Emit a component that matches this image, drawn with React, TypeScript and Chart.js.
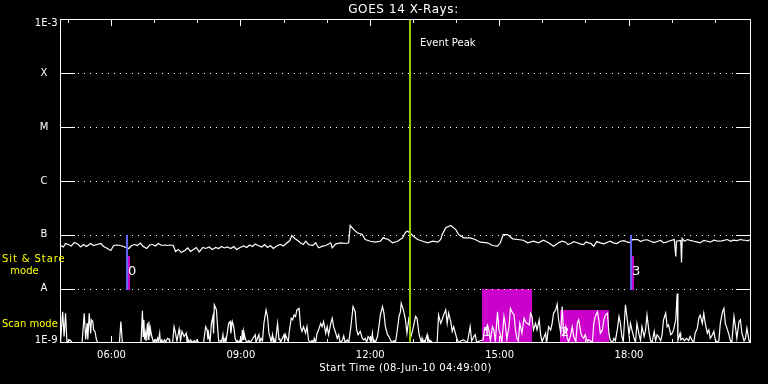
import { useEffect, useRef } from 'react';
import { Chart, registerables } from 'chart.js';

Chart.register(...registerables);

// ---------- data ----------
const TITLE = 'GOES 14 X-Rays:';
const X_TITLE = 'Start Time (08-Jun-10 04:49:00)';
const SPAN_MINUTES = 960; // minutes after 04:49
const hourTickMinutes = [11, 71, 131, 191, 251, 311, 371, 431, 491, 551, 611, 671, 731, 791, 851, 911];
const labelTickMinutes = [71, 251, 431, 611, 791];
const labelTickTexts = ['06:00', '09:00', '12:00', '15:00', '18:00'];
const levelValues = [1e-9, 1e-8, 1e-7, 1e-6, 1e-5, 1e-4, 1e-3];
const levelLabels = ['1E-9', 'A', 'B', 'C', 'M', 'X', '1E-3'];
const eventPeakMinute = 486;
const sitStareMinutes = [93, 794];
const sitStareLabels = ['0', '3'];
const sitStareBarTop = [4.1e-8, 4.1e-8];
const scanBlockStart = [586, 695];
const scanBlockEnd = [655, 763];
const scanBlockTop = [1e-8, 4.1e-9];
const scanBlockLabels = ['1', '2'];

// [minute, flux W/m^2]
const fluxSamples: [number, number][] = [
  [0, 6.34e-8], [4, 5.94e-8], [7, 6.9e-8], [11, 6.61e-8], [15, 6.2e-8], [19, 7.2e-8], [24, 6.76e-8], [28, 5.94e-8],
  [32, 6.61e-8], [36, 6.07e-8], [42, 6.9e-8], [46, 6.34e-8], [51, 6.61e-8], [56, 6.9e-8], [60, 6.07e-8], [64, 5.7e-8],
  [70, 5.12e-8], [74, 6.34e-8], [78, 6.47e-8], [83, 6.34e-8], [88, 6.07e-8], [92, 5.7e-8], [95, 5.58e-8], [99, 6.34e-8],
  [103, 6.61e-8], [107, 6.34e-8], [111, 7.05e-8], [115, 6.07e-8], [120, 5.58e-8], [124, 6.47e-8], [128, 6.61e-8],
  [132, 6.2e-8], [136, 6.9e-8], [141, 6.34e-8], [145, 6.47e-8], [149, 6.34e-8], [153, 6.47e-8], [157, 6.34e-8],
  [160, 4.91e-8], [164, 5.35e-8], [168, 4.7e-8], [173, 5.12e-8], [177, 5.7e-8], [181, 4.91e-8], [185, 5.35e-8],
  [189, 5.82e-8], [193, 4.8e-8], [198, 5.82e-8], [202, 5.58e-8], [207, 5.94e-8], [211, 5.35e-8], [216, 5.82e-8],
  [220, 5.58e-8], [224, 6.07e-8], [228, 5.7e-8], [232, 5.94e-8], [237, 5.58e-8], [241, 6.07e-8], [245, 5.35e-8],
  [250, 5.82e-8], [255, 6.2e-8], [259, 5.82e-8], [263, 6.47e-8], [267, 6.07e-8], [271, 6.76e-8], [275, 6.34e-8],
  [280, 5.94e-8], [284, 6.61e-8], [288, 5.82e-8], [292, 6.34e-8], [296, 5.58e-8], [302, 6.34e-8], [306, 6.61e-8],
  [310, 6.2e-8], [314, 6.9e-8], [319, 7.84e-8], [322, 9.7e-8], [326, 8.54e-8], [330, 7.84e-8], [334, 7.05e-8],
  [338, 6.61e-8], [341, 7.61e-8], [345, 6.61e-8], [351, 6.34e-8], [355, 7.11e-8], [359, 5.74e-8], [365, 6.15e-8],
  [369, 6.34e-8], [376, 7.11e-8], [378, 5.74e-8], [383, 6.81e-8], [390, 7.11e-8], [397, 6.9e-8], [401, 7.11e-8],
  [403, 1.49e-7], [408, 1.25e-7], [413, 1.09e-7], [420, 1.01e-7], [424, 8.18e-8], [431, 7.61e-8], [438, 7.3e-8],
  [445, 7.61e-8], [449, 8.8e-8], [456, 8.18e-8], [462, 7.11e-8], [469, 7.61e-8], [476, 8.8e-8], [480, 1.12e-7],
  [483, 1.17e-7], [487, 1.06e-7], [491, 9.42e-8], [497, 8.18e-8], [504, 7.61e-8], [511, 7.11e-8], [518, 7.61e-8],
  [525, 7.3e-8], [529, 8.18e-8], [531, 1.01e-7], [536, 1.35e-7], [543, 1.49e-7], [550, 1.25e-7], [554, 1.01e-7],
  [561, 8.8e-8], [570, 8.8e-8], [577, 8.18e-8], [584, 7.3e-8], [594, 7.11e-8], [601, 6.34e-8], [608, 6.15e-8],
  [612, 7.11e-8], [616, 1.01e-7], [622, 1.01e-7], [629, 8.43e-8], [636, 8.18e-8], [644, 7.94e-8], [650, 7.11e-8],
  [658, 7.61e-8], [665, 7.11e-8], [672, 7.94e-8], [679, 7.11e-8], [686, 6.15e-8], [693, 7.11e-8], [698, 7.6e-8],
  [703, 7.3e-8], [706, 6.6e-8], [710, 6.9e-8], [714, 7.5e-8], [719, 7.11e-8], [723, 6.8e-8], [728, 6.61e-8],
  [731, 7.4e-8], [735, 7.11e-8], [738, 6.9e-8], [742, 6.15e-8], [746, 7.5e-8], [751, 7.11e-8], [756, 6.8e-8],
  [761, 7.3e-8], [765, 7.6e-8], [769, 7.11e-8], [774, 6.9e-8], [779, 7.61e-8], [784, 7.8e-8], [789, 7.3e-8],
  [792, 7.2e-8], [796, 8.18e-8], [803, 8.18e-8], [807, 7.5e-8], [811, 7.94e-8], [816, 8.1e-8], [821, 7.61e-8],
  [826, 7.2e-8], [831, 7.61e-8], [835, 7.9e-8], [839, 7.11e-8], [843, 7.3e-8], [846, 7.61e-8], [850, 7.9e-8],
  [854, 8.18e-8], [856, 3.97e-8], [857, 7.61e-8], [863, 7.84e-8], [864, 3.07e-8], [865, 8.54e-8], [868, 7.6e-8],
  [872, 8.18e-8], [876, 7.9e-8], [881, 7.61e-8], [885, 7.4e-8], [890, 7.11e-8], [895, 7.9e-8], [900, 7.61e-8],
  [904, 7.3e-8], [909, 7.94e-8], [913, 7.7e-8], [918, 7.61e-8], [923, 7.9e-8], [928, 8.18e-8], [932, 7.6e-8],
  [936, 7.94e-8], [941, 7.8e-8], [946, 8.18e-8], [950, 8.0e-8], [953, 7.94e-8], [956, 7.7e-8], [960, 8.18e-8],
];

// [minute, scan-mode counts]
const scanSamples: [number, number][] = [
  [0, 0], [3, 10.3], [5, 2], [7, 9.8], [9, 0], [13, 0.9], [16, 0], [30, 0], [33, 9.8], [35, 1], [37, 6.4], [38, 1],
  [40, 9.8], [42, 3], [43, 7.6], [45, 7], [46, 4.2], [48, 3.7], [50, 0.9], [52, 0], [82, 0], [84, 7], [86, 0],
  [112, 0], [114, 10.6], [115, 2], [116, 7.6], [117, 1], [118, 3.1], [119, 0.5], [121, 6.4], [122, 1], [123, 7],
  [124, 2], [125, 4.8], [127, 2], [129, 0.3], [132, 0.9], [133, 0.2], [135, 1.4], [136, 0], [138, 3.1], [139, 0],
  [141, 0.9], [142, 0], [145, 0.9], [146, 0], [149, 1.4], [151, 1.1], [152, 0], [156, 0], [158, 5.3], [160, 3.1],
  [162, 0.5], [165, 4.4], [166, 2.6], [167, 0.5], [169, 3.7], [172, 2], [175, 3.1], [176, 0.3], [177, 1.4], [179, 0],
  [181, 0.9], [183, 0], [186, 0.6], [188, 0], [190, 0.9], [192, 0], [199, 0], [202, 5.3], [204, 4.2], [205, 1],
  [206, 3.1], [208, 0], [210, 6.4], [212, 8.7], [213, 3], [214, 12.6], [217, 10.9], [218, 7], [220, 0.5], [223, 0.6],
  [224, 0], [226, 2.6], [227, 0], [229, 1.4], [230, 0], [234, 6.4], [236, 7], [237, 3], [239, 7], [241, 5.3],
  [243, 1.4], [245, 0], [246, 0.6], [248, 0], [250, 0.9], [252, 0], [253, 4.2], [254, 1], [255, 3.7], [257, 1.4],
  [259, 0], [262, 0.6], [264, 0], [271, 2.6], [272, 0], [274, 1.4], [276, 2.6], [277, 0], [279, 1.4], [281, 0.5],
  [283, 6.4], [286, 10.9], [288, 8.7], [290, 3.1], [292, 1.4], [293, 0.3], [295, 2.6], [296, 0], [297, 1.1], [299, 0],
  [302, 6.4], [304, 1], [305, 1.4], [306, 0], [311, 2.6], [312, 0.5], [313, 2.6], [315, 1.4], [317, 0.3], [318, 3.1],
  [321, 8.1], [323, 7.6], [325, 9.2], [327, 8.7], [329, 10.9], [332, 11.4], [334, 5.3], [336, 3.7], [338, 5.3],
  [341, 3.1], [343, 5.3], [345, 0.9], [347, 0], [350, 0.6], [352, 0], [353, 1.4], [355, 0], [357, 3.1], [359, 4.2],
  [362, 6.4], [364, 5.3], [366, 7], [369, 3.1], [371, 5.3], [373, 2.6], [376, 6.4], [378, 8.1], [380, 5.3], [383, 3.1],
  [385, 1.4], [387, 2.6], [389, 0], [392, 0.6], [394, 2.2], [396, 0], [399, 0.9], [401, 0], [404, 5.3], [406, 9.8],
  [407, 12], [410, 10.3], [412, 4.2], [414, 2.6], [417, 3.7], [420, 1.4], [422, 0.9], [424, 1.4], [426, 0], [428, 2],
  [430, 1.4], [432, 0], [434, 3.1], [435, 0], [436, 0.9], [438, 0], [441, 2], [443, 5.3], [445, 9.2], [448, 12],
  [450, 9.8], [452, 5.3], [455, 2.6], [457, 2], [459, 0.9], [461, 0], [464, 0.6], [466, 0], [468, 3.1], [471, 8.7],
  [473, 10.3], [474, 13.1], [477, 10.9], [480, 7.6], [482, 3.1], [485, 8.7], [487, 1.4], [490, 4.2], [492, 6.4],
  [494, 8.7], [496, 8.1], [499, 2.6], [501, 0.9], [502, 0], [503, 1.4], [504, 0], [506, 0.6], [507, 0], [510, 2.6],
  [511, 0], [512, 1.4], [514, 0], [515, 0.6], [517, 0], [524, 0], [526, 9.2], [529, 6.4], [531, 7.6], [533, 9.2],
  [536, 10.9], [538, 6.4], [540, 9.8], [543, 7], [545, 3.7], [547, 5.3], [550, 2.6], [552, 0.9], [554, 0], [557, 0.6],
  [561, 0.9], [564, 0.3], [566, 0], [568, 2.6], [570, 5.3], [572, 0.5], [573, 0.9], [575, 2], [577, 2.6], [579, 0],
  [581, 0.3], [584, 0.6], [588, 0.9], [590, 4.8], [592, 4.2], [594, 5.9], [596, 4.2], [598, 0.6], [601, 5.3],
  [603, 4.2], [605, 0.3], [608, 10.3], [610, 4.2], [612, 2.6], [614, 0], [617, 8.7], [619, 5.9], [621, 1], [624, 5.3],
  [626, 11.4], [628, 10.3], [631, 9.2], [633, 4.2], [635, 1.4], [637, 0.5], [639, 6.4], [642, 3.1], [645, 8.1],
  [647, 7], [649, 6.4], [652, 5.9], [654, 9.8], [656, 8.7], [658, 4.2], [661, 6.4], [663, 4.2], [666, 7.6], [668, 2.6],
  [670, 0.3], [672, 1.4], [675, 3.1], [676, 0], [677, 0.9], [679, 5.3], [682, 4.2], [684, 6.4], [686, 9.8],
  [689, 10.9], [691, 12.8], [693, 7.6], [696, 3.1], [698, 12], [700, 2.6], [703, 5.3], [705, 1.4], [707, 0.3],
  [710, 2.6], [712, 5.3], [714, 2], [717, 0.3], [719, 6.4], [721, 7.6], [724, 3.1], [726, 2], [728, 1.4], [730, 2.6],
  [733, 0.3], [735, 0.9], [737, 0.6], [740, 0], [742, 6.4], [744, 8.7], [747, 10.3], [749, 7.6], [751, 3.1],
  [754, 4.2], [756, 7.6], [758, 9.2], [761, 9.8], [763, 3.1], [765, 0.6], [768, 0], [770, 1.4], [772, 0.6],
  [775, 4.8], [777, 8.7], [779, 6.4], [781, 2], [783, 0.3], [786, 12.6], [788, 8.7], [791, 2.6], [793, 6.4],
  [795, 4.2], [798, 1.4], [800, 0], [802, 6.4], [805, 2.6], [807, 0.6], [809, 5.3], [812, 2], [814, 4.2], [816, 9.2],
  [819, 3.1], [821, 0.6], [823, 0], [826, 3.7], [828, 0.6], [830, 2.6], [832, 2], [835, 0.6], [837, 2.6], [839, 7.6],
  [842, 9.8], [844, 5.3], [846, 5.9], [849, 2.6], [851, 3.1], [853, 4.2], [856, 7.6], [858, 16.4], [859, 0.6],
  [862, 3.1], [863, 0.9], [866, 1.4], [868, 0.6], [871, 1.4], [874, 0.6], [876, 2], [879, 0.6], [881, 0], [883, 3.1],
  [886, 4.8], [888, 8.1], [890, 9.2], [893, 6.4], [895, 9.8], [897, 6.4], [900, 3.1], [902, 4.2], [904, 1.4],
  [907, 2.6], [909, 3.7], [911, 0.9], [914, 0], [916, 0.6], [918, 6.4], [921, 10.3], [923, 11.4], [925, 6.4],
  [928, 4.2], [930, 2.6], [932, 0.6], [934, 0], [937, 8.7], [939, 5.3], [941, 1.4], [944, 7], [946, 7.6], [948, 3.1],
  [951, 0.6], [953, 1.4], [955, 4.8], [958, 0.6], [960, 0],
];

// ---------- styling ----------
const FG = '#ffffff';
const PEAK_COLOR = '#99cc00';
const SITSTARE_COLOR = '#6464ff';
const MAGENTA = '#cc00cc';
const YELLOW = '#ffff00';
const SMALL_FONT = '10px "DejaVu Sans"';
const MARK_FONT = '13px "DejaVu Sans"';
const TITLE_FONT = '12px "DejaVu Sans"';

function text(ctx: any, s: string, x: number, y: number, align: string, font: string, color: string, spacing = 0) {
  ctx.save();
  ctx.font = font;
  ctx.fillStyle = color;
  ctx.textAlign = align;
  ctx.textBaseline = 'middle';
  try { ctx.letterSpacing = spacing + 'px'; } catch (e) { /* ignore */ }
  ctx.fillText(s, x, y);
  ctx.restore();
}

const decor = {
  id: 'goesDecor',
  beforeDraw(chart: any) {
    const { ctx, width, height } = chart;
    ctx.save();
    ctx.fillStyle = '#000';
    ctx.fillRect(0, 0, width, height);
    ctx.restore();
  },
  beforeDatasetsDraw(chart: any) {
    const { ctx, chartArea: a, scales } = chart;
    const xs = scales.x;
    const ys = scales.y;
    ctx.save();
    // scan-mode blocks
    ctx.fillStyle = MAGENTA;
    scanBlockStart.forEach((s, i) => {
      const x0 = xs.getPixelForValue(s);
      const x1 = xs.getPixelForValue(scanBlockEnd[i]);
      const yt = ys.getPixelForValue(scanBlockTop[i]);
      ctx.fillRect(Math.round(x0), Math.round(yt), Math.round(x1 - x0), Math.round(a.bottom - yt));
    });
    // level grid: solid ends + dotted middle
    ctx.fillStyle = FG;
    const L = Math.floor(a.left);
    const R = Math.floor(a.right);
    for (let i = 1; i < levelValues.length - 1; i++) {
      const py = Math.round(ys.getPixelForValue(levelValues[i]));
      ctx.fillRect(L, py, 15, 1);
      ctx.fillRect(R - 14, py, 15, 1);
      for (let x = L + 18; x < R - 15; x += 6) ctx.fillRect(x, py, 1, 1);
    }
    // scan block labels (under the data)
    scanBlockStart.forEach((s, i) => {
      const px = xs.getPixelForValue(s);
      text(ctx, scanBlockLabels[i], px + 1, a.bottom - 10, 'left', MARK_FONT, FG);
    });
    ctx.restore();
  },
  afterDatasetsDraw(chart: any) {
    const { ctx, chartArea: a, scales } = chart;
    const xs = scales.x;
    const ys = scales.y;
    ctx.save();
    // frame
    ctx.strokeStyle = FG;
    ctx.lineWidth = 1;
    ctx.strokeRect(a.left, a.top, a.right - a.left, a.bottom - a.top);
    // x ticks (hourly minor, 3-hourly major), top and bottom
    ctx.fillStyle = FG;
    const top = Math.floor(a.top);
    const bot = Math.floor(a.bottom);
    hourTickMinutes.forEach((m) => {
      const px = Math.floor(xs.getPixelForValue(m));
      const major = labelTickMinutes.includes(m);
      const len = major ? 7 : 4;
      ctx.fillRect(px, top, 1, len);
      ctx.fillRect(px, bot - len + 1, 1, len);
    });
    labelTickMinutes.forEach((m, i) => {
      const px = xs.getPixelForValue(m);
      text(ctx, labelTickTexts[i], px, a.bottom + 13, 'center', SMALL_FONT, FG);
    });
    // y labels
    levelValues.forEach((v, i) => {
      let py = ys.getPixelForValue(v);
      const lab = levelLabels[i];
      if (i === 0) py -= 2.5;
      if (i === levelValues.length - 1) py += 3.5;
      if (lab.length > 1) text(ctx, lab, a.left - 3, py, 'right', SMALL_FONT, FG);
      else text(ctx, lab, a.left - 16.5, py, 'center', SMALL_FONT, FG);
    });
    // event peak
    const pk = Math.floor(xs.getPixelForValue(eventPeakMinute));
    ctx.fillStyle = PEAK_COLOR;
    ctx.fillRect(pk, top + 1, 2, bot - top - 1);
    text(ctx, 'Event Peak', pk + 11, a.top + 23.5, 'left', SMALL_FONT, FG);
    // sit & stare markers
    const yB = ys.getPixelForValue(levelValues[2]);
    const yA = ys.getPixelForValue(levelValues[1]);
    sitStareMinutes.forEach((m, i) => {
      const px = Math.floor(xs.getPixelForValue(m));
      ctx.fillStyle = SITSTARE_COLOR;
      ctx.fillRect(px - 1, Math.round(yB), 2, Math.round(yA - yB) + 1);
      const yt = ys.getPixelForValue(sitStareBarTop[i]);
      ctx.fillStyle = MAGENTA;
      ctx.fillRect(px + 1, Math.round(yt), 2, Math.round(yA - yt) + 1);
      text(ctx, sitStareLabels[i], px + 1, yA - 17, 'left', MARK_FONT, FG);
    });
    // titles
    text(ctx, TITLE, (a.left + a.right) / 2 - 2, 9.5, 'center', TITLE_FONT, FG, 0.6);
    text(ctx, X_TITLE, (a.left + a.right) / 2, a.bottom + 26, 'center', SMALL_FONT, FG, 0.4);
    // side mode labels
    text(ctx, 'Sit & Stare', 2, 259, 'left', SMALL_FONT, YELLOW, 0.9);
    text(ctx, 'mode', 24.5, 271, 'center', SMALL_FONT, YELLOW);
    text(ctx, 'Scan mode', 2, 324, 'left', SMALL_FONT, YELLOW);
    ctx.restore();
  },
};

export default function App() {
  const ref = useRef<HTMLCanvasElement>(null);
  useEffect(() => {
    document.body.style.margin = '0';
    document.body.style.background = '#000';
    const canvas = ref.current!;
    const chart = new Chart(canvas, {
      type: 'line',
      data: {
        datasets: [
          {
            label: 'GOES 14 1-8 A',
            data: fluxSamples.map(([m, v]) => ({ x: m, y: v })),
            yAxisID: 'y',
            borderColor: FG,
            borderWidth: 1.2,
            pointRadius: 0,
            tension: 0,
          },
          {
            label: 'Scan mode',
            data: scanSamples.map(([m, v]) => ({ x: m, y: v })),
            yAxisID: 'y2',
            borderColor: FG,
            borderWidth: 1.2,
            pointRadius: 0,
            tension: 0,
          },
        ],
      },
      options: {
        animation: false,
        responsive: false,
        events: [],
        layout: { padding: { left: 60.5, top: 19.5, right: 17.5, bottom: 41.5 } },
        plugins: { legend: { display: false }, tooltip: { enabled: false }, title: { display: false } },
        scales: {
          x: { type: 'linear', display: false, min: 0, max: SPAN_MINUTES },
          y: { type: 'logarithmic', display: false, min: levelValues[0], max: levelValues[levelValues.length - 1] },
          y2: { type: 'linear', display: false, min: 0, max: 108 },
        },
      },
      plugins: [decor],
    } as any);
    return () => chart.destroy();
  }, []);
  return <canvas ref={ref} width={768} height={384} style={{ display: 'block', width: 768, height: 384 }} />;
}
